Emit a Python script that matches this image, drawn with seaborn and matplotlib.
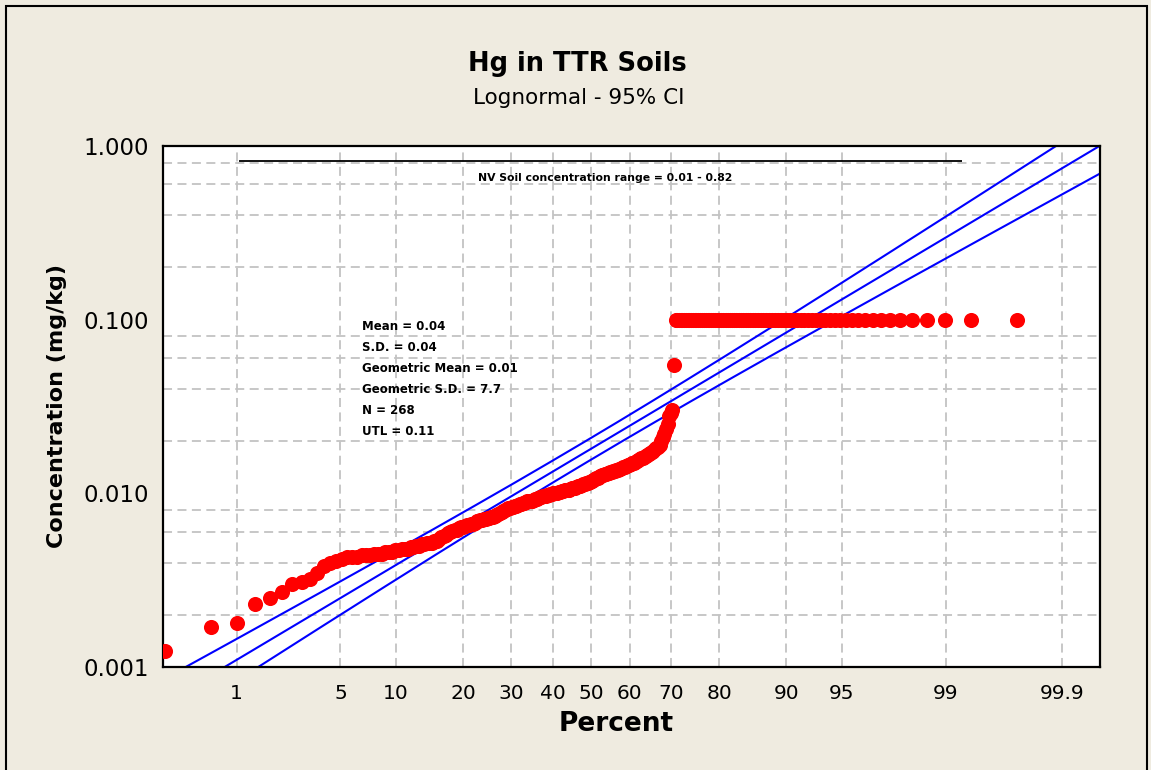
import numpy as np
import pandas as pd
import matplotlib
matplotlib.use("Agg")
import matplotlib.pyplot as plt
import seaborn as sns
from matplotlib.patches import Rectangle
from matplotlib.ticker import FixedLocator, NullLocator
from statistics import NormalDist

# sorted Hg concentrations (mg/kg)
conc_low = [
    0.00124, 0.0017, 0.0018, 0.0023, 0.0025, 0.0027, 0.0030, 0.0031, 0.0032, 0.0035,
    0.0038, 0.0040, 0.0041, 0.0042, 0.0043, 0.0043, 0.0043, 0.0044, 0.0044, 0.0044,
    0.0045, 0.0045, 0.0045, 0.0046, 0.0046, 0.0046, 0.0047, 0.0047, 0.0048, 0.0048,
    0.0048, 0.0049, 0.0049, 0.0050, 0.0050, 0.0051, 0.0051, 0.0052, 0.0052, 0.0052,
    0.0053, 0.0053, 0.0055, 0.0056, 0.0057, 0.0058, 0.0059, 0.0060, 0.0061, 0.0062,
    0.0062, 0.0063, 0.0064, 0.0064, 0.0065, 0.0066, 0.0066, 0.0067, 0.0067, 0.0068,
    0.0069, 0.0069, 0.0070, 0.0070, 0.0071, 0.0071, 0.0072, 0.0072, 0.0073, 0.0073,
    0.0074, 0.0075, 0.0076, 0.0077, 0.0078, 0.0079, 0.0080, 0.0081, 0.0082, 0.0082,
    0.0083, 0.0084, 0.0085, 0.0085, 0.0086, 0.0087, 0.0087, 0.0088, 0.0088, 0.0089,
    0.0090, 0.0090, 0.0091, 0.0091, 0.0092, 0.0093, 0.0093, 0.0094, 0.0095, 0.0095,
    0.0096, 0.0096, 0.0097, 0.0098, 0.0098, 0.0099, 0.0099, 0.0100, 0.0100, 0.0101,
    0.0101, 0.0102, 0.0102, 0.0103, 0.0103, 0.0104, 0.0104, 0.0105, 0.0105, 0.0106,
    0.0107, 0.0108, 0.0108, 0.0109, 0.0110, 0.0111, 0.0111, 0.0112, 0.0113, 0.0114,
    0.0115, 0.0115, 0.0116, 0.0117, 0.0118, 0.0120, 0.0121, 0.0122, 0.0123, 0.0125,
    0.0126, 0.0127, 0.0128, 0.0129, 0.0130, 0.0131, 0.0131, 0.0132, 0.0133, 0.0134,
    0.0135, 0.0136, 0.0137, 0.0138, 0.0139, 0.0140, 0.0141, 0.0142, 0.0144, 0.0145,
    0.0146, 0.0148, 0.0149, 0.0150, 0.0152, 0.0154, 0.0155, 0.0157, 0.0159, 0.0160,
    0.0162, 0.0164, 0.0166, 0.0168, 0.0170, 0.0173, 0.0176, 0.0179, 0.0182, 0.0186,
    0.0190, 0.0200, 0.0210, 0.0220, 0.0235, 0.0250, 0.0280, 0.0290, 0.0300, 0.0550,
]
conc_limit = 0.1      # value shared by the top of the data set
n_limit = 78

# fitted lognormal (log10 units)
fit_mu = -1.743
fit_sigma = 0.522
ci_z = 1.96

nv_range_value = 0.82
nv_range_pct = [1.05, 99.25]

x_ticks = [1, 5, 10, 20, 30, 40, 50, 60, 70, 80, 90, 95, 99, 99.9]
x_ticklabels = ["1", "5", "10", "20", "30", "40", "50", "60", "70", "80", "90", "95", "99", "99.9"]
y_ticks = [0.001, 0.01, 0.1, 1.0]
y_ticklabels = ["0.001", "0.010", "0.100", "1.000"]
y_grid = [0.001, 0.002, 0.004, 0.006, 0.008, 0.01, 0.02, 0.04, 0.06, 0.08,
          0.1, 0.2, 0.4, 0.6, 0.8, 1.0]

stats_lines = ["Mean = 0.04", "S.D. = 0.04", "Geometric Mean = 0.01",
               "Geometric S.D. = 7.7", "N = 268", "UTL = 0.11"]

conc = np.array(conc_low + [conc_limit] * n_limit)
n = len(conc)
rank = np.arange(1, n + 1)
df = pd.DataFrame({"pct": (rank - 0.3) / (n + 0.4) * 100, "conc": conc})

nd = NormalDist()
_ppf = np.vectorize(nd.inv_cdf, otypes=[float])
_cdf = np.vectorize(nd.cdf, otypes=[float])


def prob_fwd(p):
    p = np.clip(np.asarray(p, dtype=float) / 100.0, 1e-12, 1 - 1e-12)
    return _ppf(p)


def prob_inv(z):
    return _cdf(np.asarray(z, dtype=float)) * 100.0


# fit line and 95% CI
zg = np.linspace(-3.0, 3.5, 300)
se = fit_sigma * np.sqrt(1.0 / n + zg ** 2 / (2.0 * n))
mid = fit_mu + zg * fit_sigma
lines = pd.DataFrame({
    "pct": np.tile(prob_inv(zg), 3),
    "conc": np.concatenate([10 ** mid, 10 ** (mid - ci_z * se), 10 ** (mid + ci_z * se)]),
    "band": np.repeat(["fit", "lower", "upper"], len(zg)),
})

sns.set_style("white")
plt.rcParams["font.family"] = ["DejaVu Sans"]
plt.rcParams["text.color"] = "black"
plt.rcParams["axes.labelcolor"] = "black"
plt.rcParams["xtick.color"] = "black"
plt.rcParams["ytick.color"] = "black"

bg = "#EFEBE0"
fig = plt.figure(figsize=(11.51, 7.70), dpi=100, facecolor=bg)
ax = fig.add_axes([0.1416, 0.1334, 0.8141, 0.6774])
ax.set_facecolor("white")
ax.set_xscale("function", functions=(prob_fwd, prob_inv))
ax.set_yscale("log")

sns.lineplot(data=lines, x="pct", y="conc", units="band", estimator=None, sort=False,
             color="#0000FF", linewidth=1.5, ax=ax, zorder=2)
sns.scatterplot(data=df, x="pct", y="conc", color="#FF0000", s=118, linewidth=0,
                ax=ax, zorder=3)

ax.hlines(nv_range_value, nv_range_pct[0], nv_range_pct[1], color="black", linewidth=1.3, zorder=2)
ax.text(0.4717, 0.938, "NV Soil concentration range = 0.01 - 0.82", transform=ax.transAxes,
        ha="center", va="center", fontsize=7.8, fontweight="bold", color="black")
for k, s in enumerate(stats_lines):
    ax.text(0.2124, 0.6543 - k * 0.0406, s, transform=ax.transAxes, ha="left", va="center",
            fontsize=8.5, fontweight="bold", color="black")

ax.set_xlim(0.248, 99.958)
ax.set_ylim(0.001, 1.0)
ax.xaxis.set_major_locator(FixedLocator(x_ticks))
ax.set_xticklabels(x_ticklabels)
ax.xaxis.set_minor_locator(NullLocator())
ax.yaxis.set_major_locator(FixedLocator(y_ticks))
ax.set_yticklabels(y_ticklabels)
ax.yaxis.set_minor_locator(FixedLocator(y_grid))
ax.tick_params(axis="y", which="minor", length=0, labelleft=False)
ax.tick_params(which="major", direction="out", length=6, width=1.6, color="black")
ax.tick_params(axis="x", labelsize=14.5, pad=6)
ax.tick_params(axis="y", labelsize=16.5, pad=4)

gstyle = dict(color="#C3C3C3", linestyle=(0, (5, 3)), linewidth=1.3)
ax.grid(True, axis="x", which="major", **gstyle)
ax.grid(True, axis="y", which="minor", **gstyle)
ax.set_axisbelow(True)
for sp in ax.spines.values():
    sp.set_visible(True)
    sp.set_color("black")
    sp.set_linewidth(1.6)

ax.set_xlabel("Percent", fontsize=19, fontweight="bold", labelpad=2)
ax.xaxis.set_label_coords(0.4835, -0.083)
ax.set_ylabel("Concentration (mg/kg)", fontsize=16, fontweight="bold", labelpad=12)

fig.text(0.502, 1 - 64 / 770, "Hg in TTR Soils", ha="center", va="center",
         fontsize=18.5, fontweight="bold")
fig.text(0.503, 1 - 98 / 770, "Lognormal - 95% CI", ha="center", va="center", fontsize=15.5)

fig.add_artist(Rectangle((6 / 1151, -0.01), 1141 / 1151, 1 - 6 / 770 + 0.01,
                         transform=fig.transFigure, fill=False, edgecolor="black", linewidth=1.5))

fig.savefig("out.png", dpi=100, facecolor=bg)
